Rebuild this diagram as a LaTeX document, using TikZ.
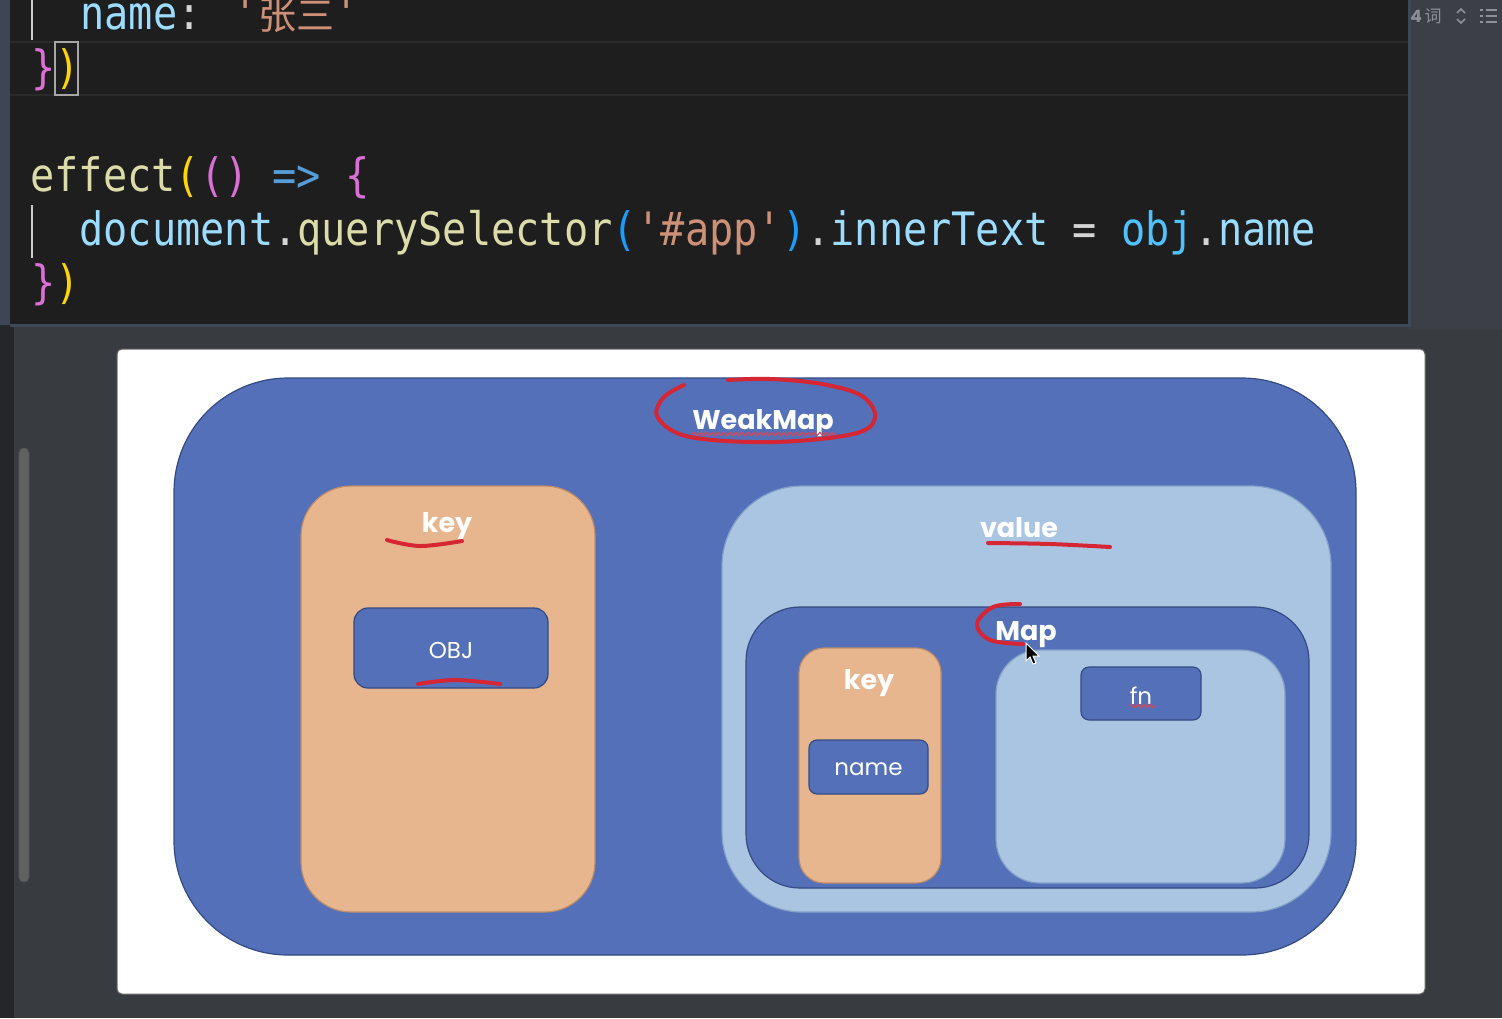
\documentclass[tikz,border=0pt]{standalone}
\usepackage{fontspec}
\setmainfont{Poppins}
\newfontfamily\codefont[FakeStretch=0.875]{DejaVu Sans Mono}
\newfontfamily\cjkfont{Noto Sans CJK SC}
\usetikzlibrary{decorations.pathmorphing}
\definecolor{edbg}{RGB}{30,30,30}
\definecolor{lowbg}{RGB}{56,59,64}
\definecolor{sidebg}{RGB}{60,63,69}
\definecolor{leftstrip}{RGB}{62,70,84}
\definecolor{edborder}{RGB}{62,72,88}
\definecolor{lineline}{RGB}{42,42,42}
\definecolor{cvar}{RGB}{156,220,254}
\definecolor{cfun}{RGB}{220,220,170}
\definecolor{cstr}{RGB}{206,145,120}
\definecolor{cgold}{RGB}{255,215,0}
\definecolor{cpurp}{RGB}{218,112,214}
\definecolor{cblue}{RGB}{23,159,255}
\definecolor{ckey}{RGB}{86,156,214}
\definecolor{cobj}{RGB}{79,193,255}
\definecolor{cdef}{RGB}{212,212,212}
\definecolor{wmblue}{RGB}{84,112,184}
\definecolor{wmedge}{RGB}{52,74,130}
\definecolor{salmon}{RGB}{231,181,142}
\definecolor{salmonedge}{RGB}{190,140,105}
\definecolor{lblue}{RGB}{170,197,226}
\definecolor{lblueedge}{RGB}{130,160,200}
\definecolor{penred}{RGB}{214,38,52}
\definecolor{icongrey}{RGB}{140,145,152}
\newcommand\sq{\char39\relax}
\tikzset{
  box/.style={inner sep=0pt, line width=0.6pt},
  bluebox/.style={box, fill=wmblue, draw=wmedge},
  salbox/.style={box, fill=salmon, draw=salmonedge},
  lbbox/.style={box, fill=lblue, draw=lblueedge},
  lbl/.style={text=white, font=\fontsize{13.5pt}{16pt}\selectfont\bfseries, inner sep=0pt},
  rlbl/.style={text=white, font=\fontsize{11.5pt}{14pt}\selectfont, inner sep=0pt},
  code/.style={anchor=base west, inner sep=0pt, font=\codefont\fontsize{23pt}{27pt}\selectfont},
  redpen/.style={draw=penred, line width=2pt, line cap=round, line join=round},
  squig/.style={draw=penred!80!pink, line width=0.6pt, decorate, decoration={snake, amplitude=0.8pt, segment length=3pt}},
}
\begin{document}
\begin{tikzpicture}[x=0.5pt, y=-0.5pt]
\useasboundingbox (0,0) rectangle (1502,1018);
\clip (0,0) rectangle (1502,1018);
% backgrounds
\fill[lowbg] (0,0) rectangle (1502,1018);
\fill[sidebg] (1408,0) rectangle (1502,330);
\fill[black!35!lowbg] (0,325) rectangle (14,1018);
\fill[edbg] (10,0) rectangle (1408,325);
\fill[leftstrip] (0,0) rectangle (10,325);
\draw[edborder, line width=1.5pt] (10,325) -- (1409,325) -- (1409,0);
% current line highlight
\draw[lineline, line width=1pt] (10,42) -- (1408,42);
\draw[lineline, line width=1pt] (10,95) -- (1408,95);
\node[draw=gray!70, line width=0.8pt, minimum width=11.5pt, minimum height=26.5pt, inner sep=0pt] (bm) at (66.5,68.5) {};
% indent guides
\draw[gray!40, line width=0.7pt] (32,0) -- (32,40);
\draw[gray!40, line width=0.7pt] (32,205) -- (32,258);
% code lines
\node[code] (l1) at (80,29) {\textcolor{cvar}{name}\textcolor{cdef}{:} \textcolor{cstr}{\sq{\cjkfont\fontsize{19pt}{23pt}\selectfont 张三}\sq}};
\node[code] (l2) at (31,83) {\textcolor{cpurp}{\}}\textcolor{cgold}{)}};
\node[code] (l4) at (30,191) {\textcolor{cfun}{effect}\textcolor{cgold}{(}\textcolor{cpurp}{()} \textcolor{ckey}{=>} \textcolor{cpurp}{\{}};
\node[code] (l5) at (79,245) {\textcolor{cvar}{document}\textcolor{cdef}{.}\textcolor{cfun}{querySelector}\textcolor{cblue}{(}\textcolor{cstr}{\sq\#app\sq}\textcolor{cblue}{)}\textcolor{cdef}{.}\textcolor{cvar}{innerText} \textcolor{cdef}{=} \textcolor{cobj}{obj}\textcolor{cdef}{.}\textcolor{cvar}{name}};
\node[code] (l6) at (31,298) {\textcolor{cpurp}{\}}\textcolor{cgold}{)}};
% top-right status
\node[text=icongrey, inner sep=0pt, font=\fontsize{8.5pt}{10pt}\selectfont\bfseries] (cnt) at (1416,16) {4};
\node[text=icongrey, inner sep=0pt, font=\cjkfont\fontsize{8.5pt}{10pt}\selectfont] (ci) at (1433,16) {词};
\draw[icongrey, line width=0.8pt] (1457,13) -- (1461,9) -- (1465,13);
\draw[icongrey, line width=0.8pt] (1457,19) -- (1461,23) -- (1465,19);
\foreach \yy in {10,16,22}{
  \fill[icongrey] (1480,\yy-1.2) rectangle (1483,\yy+1.2);
  \fill[icongrey] (1486,\yy-1.2) rectangle (1497,\yy+1.2);
}
% scrollbar
\node[fill=gray!55!lowbg, draw=gray!40!lowbg, rounded corners=2.5pt, minimum width=5pt, minimum height=217pt, inner sep=0pt] (sb) at (24,665) {};
% white panel
\node[fill=white, draw=black!60, line width=0.5pt, rounded corners=2.5pt, minimum width=654pt, minimum height=322.5pt, inner sep=0pt] (panel) at (771,671.5) {};
% WeakMap
\node[bluebox, rounded corners=57pt, minimum width=591pt, minimum height=288.5pt] (weakmap) at (765,666.5) {};
\node[lbl] (wmlabel) at (763,423) {WeakMap};
% key (outer)
\node[salbox, rounded corners=25pt, minimum width=147pt, minimum height=213pt] (key1) at (448,699) {};
\node[lbl] (key1label) at (447,526) {key};
\node[bluebox, rounded corners=7pt, minimum width=97pt, minimum height=40pt] (objbox) at (451,648) {};
\node[rlbl] (objlabel) at (451,650) {OBJ};
% value
\node[lbbox, rounded corners=40pt, minimum width=304.5pt, minimum height=213pt] (value) at (1026.5,699) {};
\node[lbl] (valuelabel) at (1019,528) {value};
% Map
\node[bluebox, rounded corners=27pt, minimum width=281.5pt, minimum height=140.5pt] (map) at (1027.5,747.5) {};
\node[lbl] (maplabel) at (1026,635) {Map};
% inner key
\node[salbox, rounded corners=12.5pt, minimum width=71pt, minimum height=117.5pt] (key2) at (870,765.5) {};
\node[lbl] (key2label) at (869,683) {key};
\node[bluebox, rounded corners=4pt, minimum width=59.5pt, minimum height=27pt] (namebox) at (868.5,767) {};
\node[rlbl] (namelabel) at (868.5,769) {name};
% fn area
\node[lbbox, rounded corners=22pt, minimum width=144.5pt, minimum height=116.5pt] (fnarea) at (1140.5,766.5) {};
\node[bluebox, rounded corners=4pt, minimum width=60pt, minimum height=26.5pt] (fnbox) at (1141,693.5) {};
\node[rlbl] (fnlabel) at (1141,696) {fn};
% spell-check squiggles
\draw[squig] (692,434) -- (835,434);
\draw[squig] (1130,706) -- (1155,706);
% red annotations
\draw[redpen] plot[smooth, tension=0.6] coordinates {(684,385) (663,398) (658,418) (690,437) (773,442) (853,434) (875,418) (862,396) (822,384) (770,379) (728,380)};
\draw[redpen] plot[smooth, tension=0.6] coordinates {(387,540) (420,546) (462,541)};
\draw[redpen] plot[smooth, tension=0.6] coordinates {(418,684) (455,680) (500,684)};
\draw[redpen] plot[smooth, tension=0.6] coordinates {(988,543) (1050,544) (1110,547)};
\draw[redpen] plot[smooth, tension=0.6] coordinates {(1020,604) (993,607) (977,624) (990,640) (1023,644)};
% mouse cursor
\filldraw[fill=black, draw=white, line width=0.5pt] (1026,643) -- (1026,661) -- (1030,657) -- (1033,664) -- (1036,663) -- (1033,656) -- (1039,656) -- cycle;
\end{tikzpicture}
\end{document}
